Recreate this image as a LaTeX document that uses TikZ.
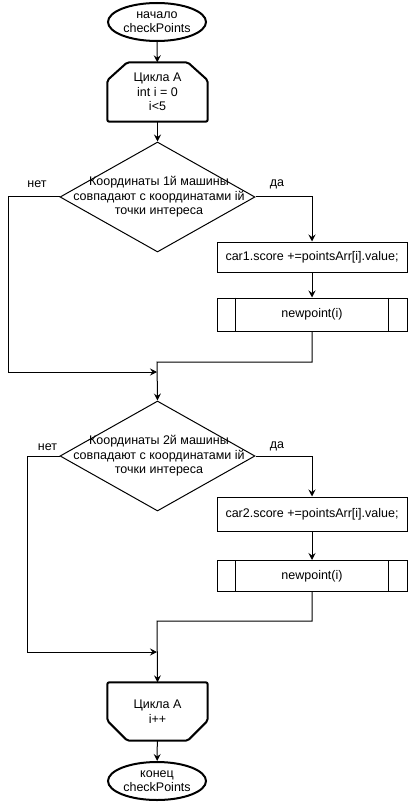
\documentclass[tikz,border=0pt]{standalone}
\usepackage{fontspec}
\setmainfont{Liberation Sans}
\usetikzlibrary{shapes.geometric,arrows.meta}

\tikzset{
  x=1pt, y=1pt,
  every node/.style={font=\fontsize{12.5}{14.5}\selectfont, text=black, inner sep=0pt, align=center},
  terminal/.style={ellipse, draw, line width=2pt, minimum width=98pt, minimum height=38pt},
  loopbox/.style={rectangle, minimum width=100pt},
  loopedge/.style={line width=2pt, line join=round, rounded corners=2pt},
  decision/.style={diamond, draw, line width=1pt, minimum width=195pt, minimum height=110pt},
  action/.style={rectangle, draw, line width=1pt, minimum width=190pt},
  subproc/.style={rectangle, draw, line width=1pt, minimum width=190pt},
  arr/.style={line width=1pt, -{Stealth[length=7pt,width=7pt,inset=2.5pt]}},
  lbl/.style={font=\fontsize{12.5}{14.5}\selectfont}
}

\begin{document}
\begin{tikzpicture}
\useasboundingbox (0,0) rectangle (408,-802);

% start and loop header (corners cut at the top)
\node[terminal] (start) at (157,-22) {начало\\checkPoints};
\node[loopbox, minimum height=59pt] (loopA) at (157.5,-92) {Цикла А\\int i = 0\\i<5};
\draw[loopedge] (loopA.south west) -- ([yshift=-18pt]loopA.north west)
  -- ([xshift=20pt]loopA.north west) -- ([xshift=-20pt]loopA.north east)
  -- ([yshift=-18pt]loopA.north east) -- (loopA.south east) -- cycle;

% first condition
\node[decision] (dec1) at (157.5,-197) {};
\node (dec1text) at (159,-197) {Координаты 1й машины\\совпадают с координатами iй\\точки интереса};
\node[action, minimum height=30pt] (score1) at (312,-257) {car1.score +=pointsArr[i].value;};
\node[subproc, minimum height=33pt] (np1) at (312,-314.5) {newpoint(i)};
\draw[line width=1pt] ([xshift=19pt]np1.north west) -- ([xshift=19pt]np1.south west);
\draw[line width=1pt] ([xshift=-19pt]np1.north east) -- ([xshift=-19pt]np1.south east);

% second condition
\node[decision] (dec2) at (157.5,-456) {};
\node (dec2text) at (159,-456) {Координаты 2й машины\\совпадают с координатами iй\\точки интереса};
\node[action, minimum height=34pt] (score2) at (312,-514) {car2.score +=pointsArr[i].value;};
\node[subproc, minimum height=31pt] (np2) at (312,-576) {newpoint(i)};
\draw[line width=1pt] ([xshift=19pt]np2.north west) -- ([xshift=19pt]np2.south west);
\draw[line width=1pt] ([xshift=-19pt]np2.north east) -- ([xshift=-19pt]np2.south east);

% loop footer (corners cut at the bottom) and end
\node[loopbox, minimum height=58pt] (loopEnd) at (157.5,-711.5) {Цикла А\\i++};
\draw[loopedge] (loopEnd.north west) -- ([yshift=20pt]loopEnd.south west)
  -- ([xshift=20pt]loopEnd.south west) -- ([xshift=-20pt]loopEnd.south east)
  -- ([yshift=20pt]loopEnd.south east) -- (loopEnd.north east) -- cycle;
\node[terminal] (stop) at (157,-781) {конец\\checkPoints};

% routing points
\coordinate (join1) at (157,-362);
\coordinate (no1) at (8,-372);
\coordinate (in1) at (157,-372);
\coordinate (join2) at (157,-621);
\coordinate (no2) at (27,-652);
\coordinate (in2) at (157,-652);

% connectors
\draw[arr] (start) -- (loopA);
\draw[arr] (loopA) -- (dec1.north);
\draw[arr] (dec1.east) -| (score1.north);
\draw[arr] (score1) -- (np1);
\draw[arr] (dec1.west) -| (no1) -- (in1);
\draw[arr] (np1.south) |- (join1) -- (dec2.north);

\draw[arr] (dec2.east) -| (score2.north);
\draw[arr] (score2) -- (np2);
\draw[arr] (dec2.west) -| (no2) -- (in2);
\draw[arr] (np2.south) |- (join2) -- (loopEnd.north);
\draw[arr] (loopEnd) -- (stop);

% branch labels
\node[lbl] (no1lbl) at (37,-184) {нет};
\node[lbl] (yes1lbl) at (277,-184) {да};
\node[lbl] (no2lbl) at (47.5,-447) {нет};
\node[lbl] (yes2lbl) at (277,-446) {да};
\end{tikzpicture}
\end{document}
